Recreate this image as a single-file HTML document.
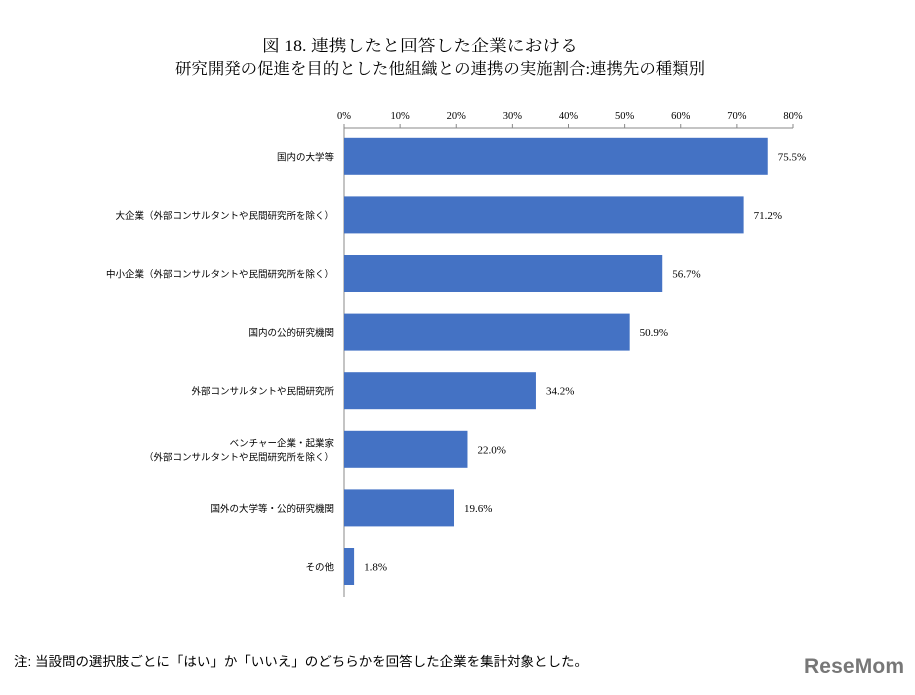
<!DOCTYPE html>
<html><head><meta charset="utf-8"><style>
body{margin:0;background:#fff;width:915px;height:690px;overflow:hidden;font-family:"Liberation Serif","Noto Serif CJK SC",serif;}
text{fill:#000}
</style></head><body>
<svg id="chart" width="915" height="690" xmlns="http://www.w3.org/2000/svg">
<text x="262" y="51" font-size="16" textLength="316" lengthAdjust="spacingAndGlyphs" font-family="Liberation Serif,Noto Serif CJK SC,serif">図 18.  連携したと回答した企業における</text>
<text x="175" y="74" font-size="16" textLength="530" lengthAdjust="spacingAndGlyphs" font-family="Liberation Serif,Noto Serif CJK SC,serif">研究開発の促進を目的とした他組織との連携の実施割合:連携先の種類別</text>
<g id="axis"></g><g id="bars"></g>
<text x="14" y="666" font-size="13" textLength="574" lengthAdjust="spacingAndGlyphs" font-family="Liberation Sans,Noto Sans CJK JP,sans-serif">注:  当設問の選択肢ごとに「はい」か「いいえ」のどちらかを回答した企業を集計対象とした。</text>
<text x="804" y="673" font-size="21" font-weight="bold" style="fill:#777" font-family="Liberation Sans,sans-serif" textLength="100">ReseMom</text>
</svg>
<script>
const categories=[["国内の大学等"],["大企業（外部コンサルタントや民間研究所を除く）"],["中小企業（外部コンサルタントや民間研究所を除く）"],["国内の公的研究機関"],["外部コンサルタントや民間研究所"],["ベンチャー企業・起業家","（外部コンサルタントや民間研究所を除く）"],["国外の大学等・公的研究機関"],["その他"]];
const values=[75.5,71.2,56.7,50.9,34.2,22.0,19.6,1.8];
const valueLabels=["75.5%","71.2%","56.7%","50.9%","34.2%","22.0%","19.6%","1.8%"];
const ticks=[0,10,20,30,40,50,60,70,80];
const tickLabels=["0%","10%","20%","30%","40%","50%","60%","70%","80%"];
const NS="http://www.w3.org/2000/svg";
const x0=344,x1=793,axY=128,top0=127,bandH=58.6;
const xs=v=>x0+(v-0)/80*(x1-x0);
const yc=i=>top0+bandH*i+bandH/2;
function mk(t,a,p){const e=document.createElementNS(NS,t);for(const k in a)e.setAttribute(k,a[k]);p.appendChild(e);return e;}
const ax=document.getElementById('axis'),bg=document.getElementById('bars');
let l=mk('line',{x1:x0,x2:x1,y1:axY,y2:axY,stroke:'#888','stroke-width':1},ax);


l=mk('line',{x1:x0,x2:x0,y1:axY,y2:597,stroke:'#888','stroke-width':1},ax);


ticks.forEach((t,i)=>{
 const tk=mk('line',{x1:xs(t),x2:xs(t),y1:axY-4,y2:axY,stroke:'#888'},ax);
 
 
 const tx=mk('text',{x:xs(t),y:119,'font-size':10.5,'text-anchor':'middle','font-family':'Liberation Serif,serif'},ax);
 tx.textContent=tickLabels[i];
 
 
});
values.forEach((v,i)=>{
 const r=mk('rect',{x:x0,y:yc(i)-18.5,width:xs(v)-x0,height:37,fill:'#4472c4'},bg);
 
 
 const vl=mk('text',{x:xs(v)+10,y:yc(i)+4,'font-size':11,'font-family':'Liberation Serif,serif'},bg);
 vl.textContent=valueLabels[i];
 
 
 const lines=categories[i];
 lines.forEach((s,j)=>{
  const c=mk('text',{x:334,y:yc(i)+4+(j-(lines.length-1)/2)*14,'font-size':9.5,'text-anchor':'end','font-family':'Liberation Sans,Noto Sans CJK JP,sans-serif'},bg);
  c.textContent=s;
  
  
 });
});
</script>
</body></html>
